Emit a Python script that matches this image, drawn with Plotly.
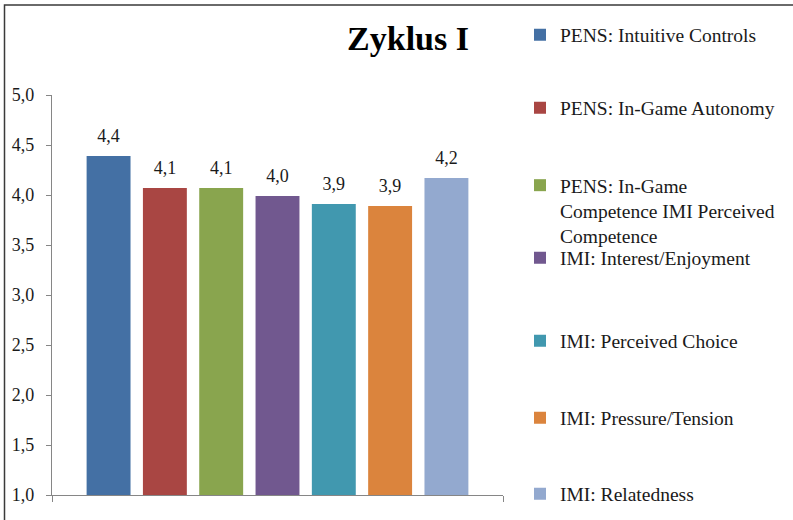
import plotly.graph_objects as go

# ---- data ----
categories = ["Zyklus I"]
series_names = [
    "PENS: Intuitive Controls",
    "PENS: In-Game Autonomy",
    "PENS: In-Game<br>Competence IMI Perceived<br>Competence",
    "IMI: Interest/Enjoyment",
    "IMI: Perceived Choice",
    "IMI: Pressure/Tension",
    "IMI: Relatedness",
]
series_values = [4.39, 4.07, 4.07, 3.99, 3.91, 3.89, 4.17]
colors = ["#4470A4", "#A94643", "#89A54E", "#71588F", "#4198AF", "#DB843D", "#93A9CF"]
y_ticks = [1.0, 1.5, 2.0, 2.5, 3.0, 3.5, 4.0, 4.5, 5.0]

# ---- layout geometry (pixels) ----
W, H = 793, 520
ML, MR, MT, MB = 52, 290, 95, 25
PW, PH = W - ML - MR, H - MT - MB
LABEL_GAP = 0.07  # visual gap between bar top and value label (axis units)

def px_to_paper_x(px):
    return (px - ML) / PW

def px_to_paper_y(py):
    return 1 - (py - MT) / PH

FONT = "Liberation Serif"
TXT = "#1a1a1a"

legend_centers_px = [35, 108, 190, 258, 341, 418, 494]

fig = go.Figure()
for i, (name, val, col) in enumerate(zip(series_names, series_values, colors)):
    lg = "legend" if i == 0 else f"legend{i+1}"
    fig.add_trace(go.Bar(
        x=categories,
        y=[val],
        name=name,
        marker=dict(color=col, line=dict(width=0)),
        offsetgroup=str(i),
        legend=lg,
        hoverinfo="skip",
    ))
    # invisible spacer carrying the value label
    fig.add_trace(go.Bar(
        x=categories,
        y=[LABEL_GAP],
        base=[val],
        offsetgroup=str(i),
        marker=dict(color="rgba(0,0,0,0)", line=dict(width=0)),
        text=[val],
        texttemplate=f"{val:.1f}".replace(".", ","),
        textposition="outside",
        textfont=dict(family=FONT, size=18, color=TXT),
        cliponaxis=False,
        showlegend=False,
        hoverinfo="skip",
    ))

layout_legends = {}
for i, cy in enumerate(legend_centers_px):
    key = "legend" if i == 0 else f"legend{i+1}"
    layout_legends[key] = dict(
        xref="container", yref="container",
        x=520 / W,
        y=1 - cy / H,
        xanchor="left",
        yanchor="middle",
        valign="middle",
        font=dict(family=FONT, size=19.5, color=TXT),
        bgcolor="rgba(0,0,0,0)",
        itemwidth=30,
    )
# 3-line item: anchor its top so that its first line sits at its position
layout_legends["legend3"].update(yanchor="top", valign="top", y=1 - 166 / H)

fig.update_layout(
    width=W, height=H,
    margin=dict(l=ML, r=MR, t=MT, b=MB, autoexpand=False),
    paper_bgcolor="white",
    plot_bgcolor="white",
    separators=", ",
    barmode="group",
    bargap=0.126,
    bargroupgap=0.22,
    showlegend=True,
    title=dict(
        text="<b>Zyklus I</b>",
        font=dict(family=FONT, size=34, color="#000000"),
        xref="container", yref="container",
        x=408 / W, y=1 - 38 / H,
        xanchor="center", yanchor="middle",
    ),
    xaxis=dict(
        type="category",
        showticklabels=False,
        showline=True, linecolor="#868686", linewidth=1.3,
        ticks="outside", tickson="boundaries", ticklen=6, tickcolor="#868686",
        showgrid=False, zeroline=False,
    ),
    yaxis=dict(
        range=[1, 5],
        tickvals=y_ticks,
        tickformat=".1f",
        showline=True, linecolor="#868686", linewidth=1.3,
        ticks="outside", ticklen=5, tickcolor="#868686",
        ticklabelstandoff=8,
        tickfont=dict(family=FONT, size=18, color=TXT),
        showgrid=False, zeroline=False,
    ),
    shapes=[dict(
        type="rect", xref="paper", yref="paper",
        x0=px_to_paper_x(4.5), x1=px_to_paper_x(W + 20),
        y0=px_to_paper_y(H + 20), y1=px_to_paper_y(5),
        line=dict(color="#3a3a3a", width=1.5),
        fillcolor="rgba(0,0,0,0)",
        layer="below",
    )],
    **layout_legends,
)

fig.write_html(
    "out.html",
    config={"displayModeBar": False},
    post_script="document.body.style.margin='0';",
)
